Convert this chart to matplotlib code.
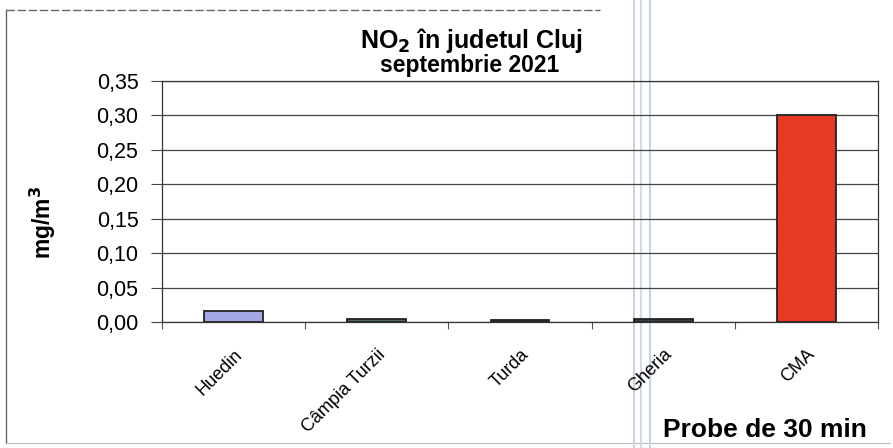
import matplotlib
matplotlib.use("Agg")
import matplotlib.pyplot as plt
from matplotlib.lines import Line2D
import matplotlib.transforms as mtransforms

categories = ["Huedin", "Câmpia Turzii", "Turda", "Gheria", "CMA"]
values = [0.016, 0.004, 0.003, 0.005, 0.300]
colors = ["#a3a9e4", "#53685c", "#5a5a5a", "#3c4340", "#e63a22"]
yticks = [0.00, 0.05, 0.10, 0.15, 0.20, 0.25, 0.30, 0.35]
ytick_labels = ["0,00", "0,05", "0,10", "0,15", "0,20", "0,25", "0,30", "0,35"]

plt.rcParams['font.family'] = ['Liberation Sans', 'DejaVu Sans']

W, H = 893, 448
fig = plt.figure(figsize=(W/100, H/100), dpi=100)
L, R, T, B = 162, 878, 81, 322
ax = fig.add_axes([L/W, 1-B/H, (R-L)/W, (B-T)/H])
ax.patch.set_alpha(0)

x = list(range(len(categories)))
ax.bar(x, values, width=0.41, color=colors, edgecolor="#222222", linewidth=1.3, zorder=3)

ax.set_xlim(-0.5, len(categories)-0.5)
ax.set_ylim(0, 0.35)
ax.set_yticks(yticks)
ax.set_yticklabels(ytick_labels, fontsize=15.5)
ax.yaxis.grid(True, color="#444444", linewidth=0.9, zorder=0)
ax.set_xticks([i - 0.5 for i in range(len(categories)+1)])
ax.set_xticklabels([])
ax.tick_params(axis='x', length=5, color="#555555")
ax.tick_params(axis='y', length=8, color="#444444", pad=9)
for s in ax.spines.values():
    s.set_color("#333333")
    s.set_linewidth(0.9)

offset = mtransforms.ScaledTranslation(0.0, -0.24, fig.dpi_scale_trans)
for i, c in enumerate(categories):
    ax.text(i, 0, c, rotation=45, ha='right', va='top', rotation_mode='anchor',
            fontsize=13, transform=ax.get_xaxis_transform() + offset)

fig.text(43/W, 1-222/H, "mg/m$^\\mathbf{3}$", rotation=90, ha='center', va='center',
         fontsize=16.5, fontweight='bold')

fig.text(472/W, 1-48/H, "NO$_\\mathbf{2}$ în judetul Cluj", ha='center', va='baseline',
         fontsize=18, fontweight='bold')
fig.text(470/W, 1-72/H, "septembrie 2021", ha='center', va='baseline',
         fontsize=16.5, fontweight='bold')
fig.text(765/W, 1-437/H, "Probe de 30 min", ha='center', va='baseline',
         fontsize=19, fontweight='bold')

# scanned page border and scan streaks (behind the chart)
bc = "#666666"
fig.lines.append(Line2D([6/W, 6/W], [1-443/H, 1-10/H], transform=fig.transFigure, color=bc, lw=1.0, zorder=-1))
fig.lines.append(Line2D([6/W, 600/W], [1-10/H, 1-10/H], transform=fig.transFigure, color=bc, lw=1.0, ls=(0, (6, 2)), zorder=-1))
fig.lines.append(Line2D([6/W, 890/W], [1-443/H, 1-443/H], transform=fig.transFigure, color="#bbbbbb", lw=0.8, zorder=-1))
for xv, c in ((634, "#c9d3e6"), (641, "#d3dbea"), (650, "#c9d3e6")):
    fig.lines.append(Line2D([xv/W, xv/W], [0, 1], transform=fig.transFigure, color=c, lw=1.5, zorder=-1))

fig.savefig("out.png", dpi=100)
